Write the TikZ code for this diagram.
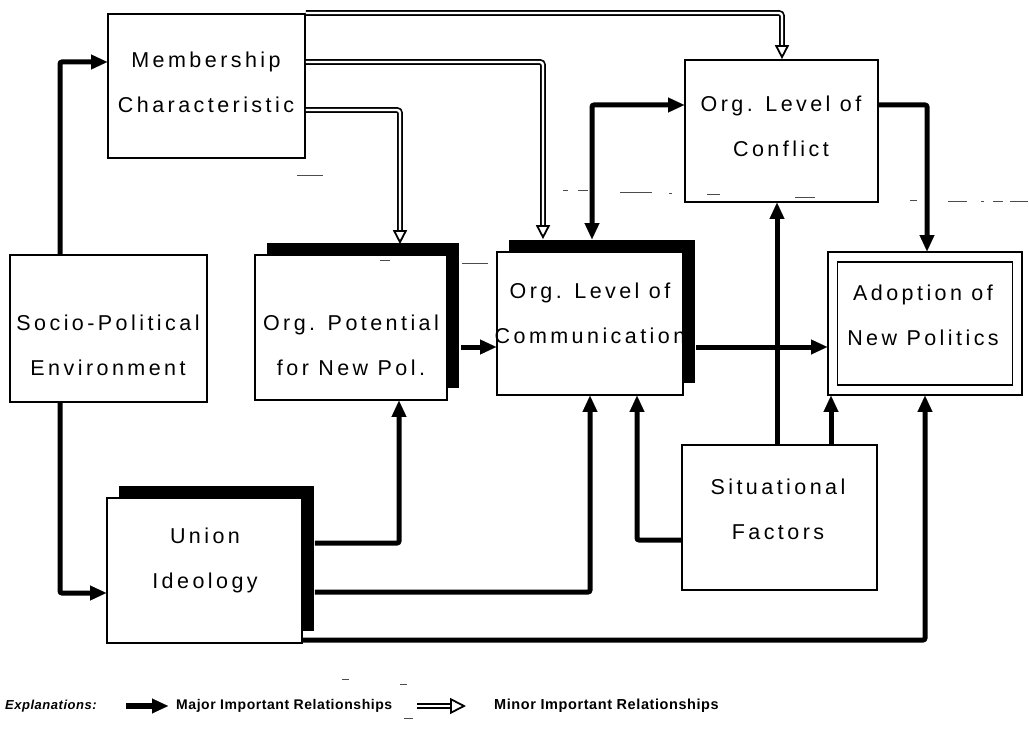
\documentclass[tikz,border=0pt]{standalone}
\usepackage{fontspec}
\setmainfont{Liberation Sans}
\newfontfamily\boxfont[LetterSpace=16]{Liberation Sans}
\newfontfamily\keyfont[LetterSpace=4]{Liberation Sans}
\usetikzlibrary{arrows.meta,shadows}

\begin{document}
\begin{tikzpicture}[x=1pt,y=-1pt,
  box/.style={draw, line width=1.7pt, fill=white, inner sep=0pt},
  shadowed/.style={drop shadow={shadow xshift=12pt, shadow yshift=12pt, opacity=1, fill=black}},
  btext/.style={align=center, inner sep=0pt, font=\boxfont\fontsize{21.5}{45}\selectfont},
  keytext/.style={anchor=west, inner sep=0pt, font=\keyfont\bfseries\fontsize{14}{16}\selectfont},
  major/.style={line width=5pt, rounded corners=2pt, -{Triangle[length=16pt,width=15pt,line width=0.1pt]}},
  majorboth/.style={line width=5pt, rounded corners=2pt, {Triangle[length=16pt,width=15pt,line width=0.1pt]}-{Triangle[length=16pt,width=15pt,line width=0.1pt]}},
  minor/.style={double, double distance=2.4pt, line width=1.7pt, rounded corners=3pt, shorten >=14pt},
  minortip/.style={line width=1.8pt, -{Triangle[open,length=14pt,width=14pt]}},
  faint/.style={line width=0.8pt, black!70},
]
\fill[white] (0,0) rectangle (1029,741);
\useasboundingbox (0,0) rectangle (1029,741);

% ---- boxes ----
\node[box, minimum width=197pt, minimum height=144pt] (memb) at (206.5,86) {};
\node[box, minimum width=197pt, minimum height=147pt] (soc) at (108.5,328.5) {};
\node[box, shadowed, minimum width=192pt, minimum height=145pt] (pot) at (351,327.5) {};
\node[box, shadowed, minimum width=186pt, minimum height=143pt] (comm) at (590,323.5) {};
\node[box, minimum width=193pt, minimum height=142pt] (conf) at (781.5,131) {};
\node[box, minimum width=194pt, minimum height=143pt] (adopt) at (925,323.5) {};
\node[box, minimum width=175pt, minimum height=123pt] (adoptin) at (925,323.5) {};
\node[box, minimum width=195pt, minimum height=145pt] (sit) at (779.5,517.5) {};
\node[box, shadowed, minimum width=195pt, minimum height=145pt] (union) at (204.5,570.5) {};

% ---- box texts ----
\node[btext] (membT) at (206,82) {Membership\\Characteristic};
\node[btext] (socT) at (108,345) {Socio-Political\\Environment};
\node[btext] (potT) at (351,345) {Org. Potential\\for New Pol.};
\node[btext] (commT) at (590,313) {Org. Level of\\Communication};
\node[btext] (confT) at (781,126) {Org. Level of\\Conflict};
\node[btext] (adoptT) at (923,315) {Adoption of\\New Politics};
\node[btext] (sitT) at (778,509) {Situational\\Factors};
\node[btext] (unionT) at (205,560) {Union\\Ideology};

% ---- lane coordinates ----
\coordinate (l1) at (60,62);
\coordinate (l2) at (60,593);
\coordinate (m1) at (782,13);
\coordinate (m2) at (543,62);
\coordinate (m3) at (400,110);
\coordinate (c1) at (592,105);
\coordinate (c2) at (927,105);
\coordinate (s1) at (777,0);
\coordinate (s2) at (831,0);
\coordinate (s3) at (637,540);
\coordinate (p1) at (0,347);
\coordinate (u1) at (399,543);
\coordinate (u2) at (590,592);
\coordinate (u3) at (925,640);

% ---- minor relationships (double lines) ----
\draw[minor] (memb.north east |- m1) -| (conf.north -| m1);
\draw[minortip] ([yshift=14pt]conf.north -| m1) -- (conf.north -| m1);
\draw[minor] (memb.east |- m2) -| ([yshift=12pt]comm.north -| m2);
\draw[minortip] ([yshift=26pt]comm.north -| m2) -- ([yshift=12pt]comm.north -| m2);
\draw[minor] (memb.east |- m3) -| ([yshift=10pt]pot.north -| m3);
\draw[minortip] ([yshift=24pt]pot.north -| m3) -- ([yshift=10pt]pot.north -| m3);

% ---- major relationships ----
\draw[major] (soc.north -| l1) |- (memb.west |- l1);
\draw[major] (soc.south -| l2) |- (union.west |- l2);
\draw[majorboth] ([yshift=12pt]comm.north -| c1) |- (conf.west |- c1);
\draw[major] (conf.east |- c2) -| (adopt.north -| c2);
\draw[major] (sit.north -| s1) -- (conf.south -| s1);
\draw[major] (sit.north -| s2) -- (adopt.south -| s2);
\draw[major] (sit.west |- s3) -| (comm.south -| s3);
\draw[major] ([xshift=13pt]pot.east |- p1) -- (comm.west |- p1);
\draw[major] ([xshift=12pt]comm.east |- p1) -- (adopt.west |- p1);
\draw[major] ([xshift=12pt]union.east |- u1) -| (pot.south -| u1);
\draw[major] ([xshift=12pt]union.east |- u2) -| (comm.south -| u2);
\draw[major] (union.east |- u3) -| (adopt.south -| u3);

% ---- faint dashed guide marks ----
\draw[faint] (297,175) -- (323,175);
\draw[faint] (563,190) -- (568,190) (578,190) -- (588,190) (620,192) -- (652,192) (669,193) -- (672,193);
\draw[faint] (462,263) -- (488,263) (380,260) -- (390,260);
\draw[faint] (707,194) -- (720,194) (795,197) -- (815,197);
\draw[faint] (910,200) -- (917,200) (948,201) -- (967,201) (981,201) -- (984,201) (993,201) -- (1003,201) (1010,201) -- (1028,201);
\draw[faint] (342,679) -- (349,679) (400,684) -- (407,684) (404,718) -- (413,718);

% ---- key ----
\node[anchor=west, inner sep=0pt, font=\keyfont\bfseries\itshape\fontsize{13}{15}\selectfont] (expl) at (5,706) {Explanations:};
\coordinate (k1a) at (126,706);
\coordinate (k1b) at (168,706);
\draw[major, line width=6pt] (k1a) -- (k1b);
\node[keytext] (majT) at (176,706) {Major Important Relationships};
\coordinate (k2a) at (417,706);
\coordinate (k2b) at (466,706);
\draw[minor, shorten >=16pt] (k2a) -- (k2b);
\draw[minortip, -{Triangle[open,length=16pt,width=16pt]}] ([xshift=-16pt]k2b) -- (k2b);
\node[keytext, font=\keyfont\bfseries\fontsize{14.5}{16}\selectfont] (minT) at (494,706) {Minor Important Relationships};
\end{tikzpicture}
\end{document}
